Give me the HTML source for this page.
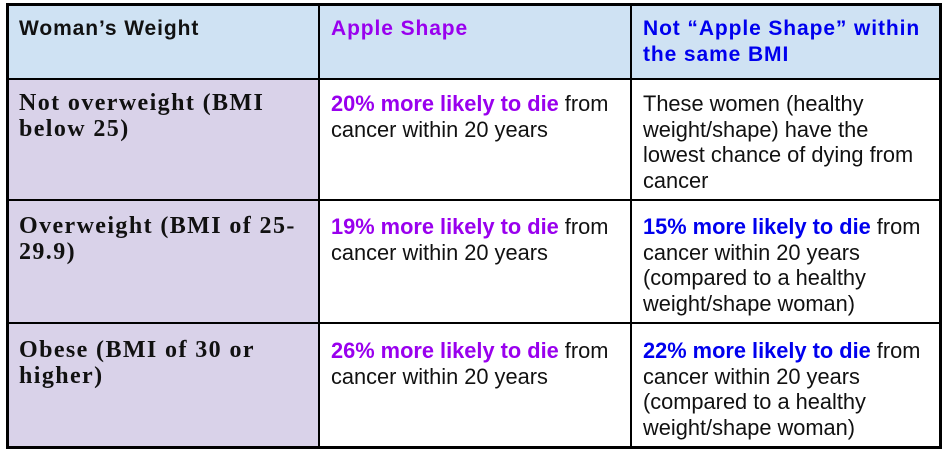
<!DOCTYPE html>
<html><head><style>
body{margin:0;width:943px;height:456px;background:#fff;position:relative;overflow:hidden}
.c{position:absolute;box-sizing:border-box;padding:0 0 0 11px;font-family:"Liberation Sans",Arial,sans-serif;font-size:21.8px;line-height:25.5px;color:#111;white-space:nowrap}
.l{position:absolute;background:#000}
.h{font-weight:bold;font-size:21px;letter-spacing:0.9px}
.s{font-family:"Liberation Serif",serif;font-weight:bold;font-size:24px;letter-spacing:1.4px}
.p{color:#9900ee;font-weight:bold}
.b{color:#0000ee;font-weight:bold}
</style></head><body>
<div class="c" style="left:7px;top:5px;width:934px;height:74px;background:#cfe2f3"></div>
<div class="c" style="left:7px;top:79px;width:312px;height:368px;background:#d9d2e9"></div>
<div class="c h" style="left:8px;top:16px;width:310px">Woman’s Weight</div>
<div class="c h p" style="left:320px;top:16px;width:310px">Apple Shape</div>
<div class="c h b" style="left:632px;top:16px;width:308px">Not “Apple Shape” within<br>the same BMI</div>

<div class="c s" style="left:8px;top:91px;width:310px">Not overweight (BMI<br>below 25)</div>
<div class="c" style="left:320px;top:91px;width:310px"><span class="p">20% more likely to die</span> from<br>cancer within 20 years</div>
<div class="c" style="left:632px;top:91px;width:308px">These women (healthy<br>weight/shape) have the<br>lowest chance of dying from<br>cancer</div>

<div class="c s" style="left:8px;top:214px;width:310px">Overweight (BMI of 25-<br>29.9)</div>
<div class="c" style="left:320px;top:214px;width:310px"><span class="p">19% more likely to die</span> from<br>cancer within 20 years</div>
<div class="c" style="left:632px;top:214px;width:308px"><span class="b">15% more likely to die</span> from<br>cancer within 20 years<br>(compared to a healthy<br>weight/shape woman)</div>

<div class="c s" style="left:8px;top:338px;width:310px">Obese (BMI of 30 or<br>higher)</div>
<div class="c" style="left:320px;top:338px;width:310px"><span class="p">26% more likely to die</span> from<br>cancer within 20 years</div>
<div class="c" style="left:632px;top:338px;width:308px"><span class="b">22% more likely to die</span> from<br>cancer within 20 years<br>(compared to a healthy<br>weight/shape woman)</div>

<div class="l" style="left:6px;top:3px;width:936px;height:3px"></div>
<div class="l" style="left:6px;top:78px;width:936px;height:2px"></div>
<div class="l" style="left:6px;top:199px;width:936px;height:2px"></div>
<div class="l" style="left:6px;top:322px;width:936px;height:2px"></div>
<div class="l" style="left:6px;top:446px;width:936px;height:3px"></div>
<div class="l" style="left:6px;top:3px;width:3px;height:446px"></div>
<div class="l" style="left:318px;top:3px;width:2px;height:446px"></div>
<div class="l" style="left:630px;top:3px;width:2px;height:446px"></div>
<div class="l" style="left:939px;top:3px;width:3px;height:446px"></div>
</body></html>
